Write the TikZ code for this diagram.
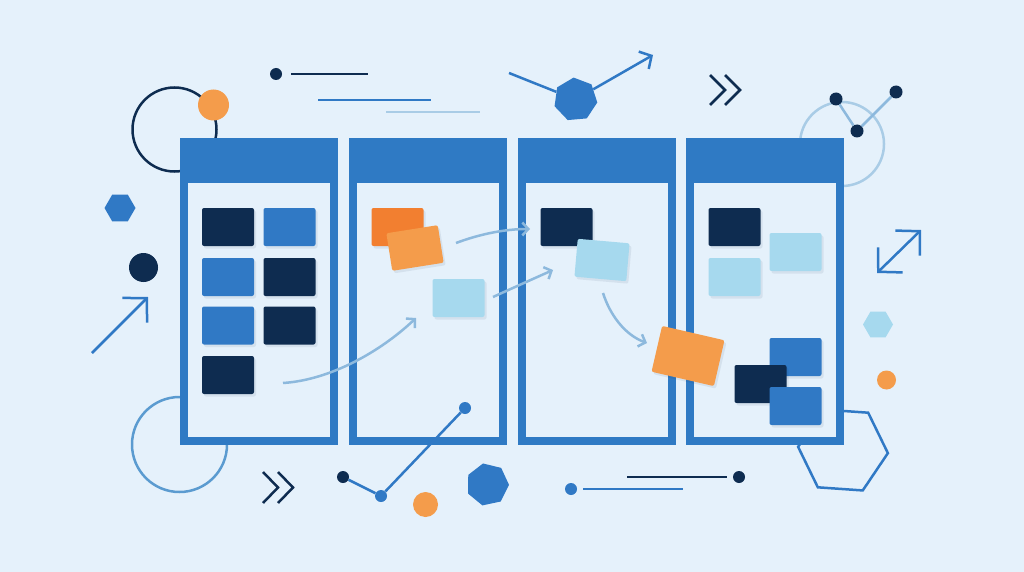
\documentclass[tikz,border=0pt]{standalone}
\usepackage{tikz}
\usetikzlibrary{shadows}
\usetikzlibrary{positioning}
\usetikzlibrary{arrows.meta,shapes}
\usetikzlibrary{calc}
\definecolor{bg}{HTML}{E5F1FB}
\definecolor{colblue}{HTML}{2F7AC4}
\definecolor{navy}{HTML}{0E2C50}
\definecolor{midblue}{HTML}{3079C5}
\definecolor{skyblue}{HTML}{A6D9EE}
\definecolor{orangeA}{HTML}{F27F30}
\definecolor{orangeB}{HTML}{F49C4B}
\definecolor{flowblue}{HTML}{8DB9DD}
\definecolor{ringblue}{HTML}{5B9BD0}
\definecolor{paleblue}{HTML}{A9CCE6}
\tikzstyle{column}=[rectangle,draw=colblue,fill=bg,line width=8pt,minimum width=150pt,minimum height=299pt,inner sep=0pt]
\tikzstyle{card}=[rectangle,rounded corners=2pt,minimum width=52pt,minimum height=38pt,inner sep=0pt,drop shadow={shadow xshift=2pt,shadow yshift=-2.5pt,fill=navy,opacity=0.08}]
\tikzstyle{dot}=[circle,inner sep=0pt,minimum size=12pt]
\tikzstyle{poly}=[regular polygon,inner sep=0pt]
\tikzstyle{flow}=[draw,line width=2.5pt,flowblue,-{Straight Barb[length=6pt,width=13pt]}]
\tikzstyle{deco} = [draw,line width=2.5pt]
\tikzset{bigbarb/.tip={Straight Barb[length=17pt,width=35pt]}}

\begin{document}
\begin{tikzpicture}[x=1pt, y=-1pt]

  \fill[bg] (0,0) rectangle (1024,572);
  \useasboundingbox (0,0) rectangle (1024,572);

  % rings behind the board
  \node[circle,draw=navy,line width=2.5pt,minimum size=84pt] (ringtl) at (174.5,129.5) {};
  \node[circle,draw=ringblue,line width=2.5pt,minimum size=95pt] (ringbl) at (179.5,444.5) {};
  \node[circle,draw=paleblue,line width=2.5pt,minimum size=84pt] (ringtr) at (842,144) {};
  \node[poly,regular polygon sides=6,draw=midblue,line width=2.5pt,minimum size=90pt,rotate=-4] (hexbig) at (843,450) {};

  \foreach \x/\name in {180/todo, 349/doing, 518/review, 686/done}{
     \node[column] (\name) at (\x+79, 291.5) {};
     \fill[colblue] (\x,138) rectangle (\x+158,183);
  }

  \foreach \x/\y/\c/\name in {228/227/navy/a1, 289.5/227/midblue/a2, 228/277/midblue/a3, 289.5/277/navy/a4, 228/325.5/midblue/a5, 289.5/325.5/navy/a6, 228/375/navy/a7}
     \node[card,fill=\c] (\name) at (\x,\y) {};

  \node[card,fill=orangeA] (b1) at (397.5,227) {};
  \node[card,fill=orangeB,rotate=9] (b2) at (415,248) {};
  \node[card,fill=skyblue] (b3) at (458.5,298) {};

  \node[card,fill=navy] (c1) at (566.5,227) {};
  \node[card,fill=skyblue,rotate=-5] (c2) at (602,260) {};

  \foreach \x/\y/\c/\name in {734.5/227/navy/d1, 795.5/252/skyblue/d2, 734.5/277/skyblue/d3, 795.5/357/midblue/d4, 760.5/384/navy/d5, 795.5/406/midblue/d6}
     \node[card,fill=\c] (\name) at (\x,\y) {};

  \node[card,fill=orangeB,minimum width=64pt,minimum height=47pt,rotate=-13] (moving) at (688,356) {};

  % flow arrows
  \coordinate (f1a) at (283,383); \coordinate (f1b) at (416,318);
  \coordinate (f2a) at (456,243); \coordinate (f2b) at (530,229);
  \coordinate (f3a) at (493,297); \coordinate (f3b) at (553,270);
  \coordinate (f4a) at (603,293); \coordinate (f4b) at (647,343);
  \draw[flow] (f1a) .. controls (330,380) and (380,352) .. (f1b);
  \draw[flow] (f2a) .. controls (480,234) and (505,229) .. (f2b);
  \draw[flow] (f3a) .. controls (515,287) and (535,278) .. (f3b);
  \draw[flow] (f4a) .. controls (610,315) and (625,335) .. (f4b);

  % top left
  \node[dot,fill=orangeB,minimum size=31pt] (sun) at (213.5,105) {};
  \node[dot,fill=navy] (p1) at (276,74) {};
  \coordinate (p1a) at (291,74); \coordinate (p1b) at (368,74);
  \draw[deco,navy] (p1a) -- (p1b);
  \coordinate (l1a) at (318,100); \coordinate (l1b) at (431,100);
  \draw[deco,midblue] (l1a) -- (l1b);
  \coordinate (l2a) at (386,112); \coordinate (l2b) at (480,112);
  \draw[deco,paleblue] (l2a) -- (l2b);
  \node[poly,regular polygon sides=6,fill=midblue,minimum size=31pt] (hexl) at (120,208) {};
  \node[dot,fill=navy,minimum size=29pt] (ball) at (143.5,267.5) {};
  \coordinate (up1) at (92,353); \coordinate (up2) at (148,297);
  \draw[deco,midblue,-bigbarb] (up1) -- (up2);

  % top middle
  \node[poly,regular polygon sides=7,fill=midblue,minimum size=44pt,rotate=5] (hub) at (575.5,99.5) {};
  \coordinate (hubin) at (509,73); \coordinate (hubout) at (653,55);
  \draw[deco,midblue] (hubin) -- (hub);
  \draw[deco,midblue,-{Straight Barb[length=9pt,width=20pt]}] (hub) -- (hubout);
  \foreach \x in {710,725}
     \draw[deco,navy] (\x,75) -- (\x+15,90) -- (\x,105);

  % top right
  \node[dot,fill=navy,minimum size=13pt] (t1) at (836,99) {};
  \node[dot,fill=navy,minimum size=13pt] (t2) at (857,131) {};
  \node[dot,fill=navy,minimum size=13pt] (t3) at (896,92) {};
  \draw[deco,flowblue] (t1) -- (t2) -- (t3);
  \coordinate (da) at (877,273); \coordinate (db) at (921,230);
  \draw[deco,midblue,bigbarb-bigbarb] (da) -- (db);
  \node[poly,regular polygon sides=6,fill=skyblue,minimum size=30pt] (hexr) at (878,324.5) {};
  \node[dot,fill=orangeB,minimum size=19pt] (pip) at (886.5,380) {};

  % bottom
  \foreach \x in {263,278}
     \draw[deco,navy] (\x,472) -- (\x+15,487.5) -- (\x,503);
  \node[dot,fill=navy] (g1) at (343,477) {};
  \node[dot,fill=midblue] (g2) at (381,496) {};
  \node[dot,fill=midblue] (g3) at (465,408) {};
  \draw[deco,midblue] (g1) -- (g2) -- (g3);
  \node[dot,fill=orangeB,minimum size=25pt] (coin) at (425.5,504.5) {};
  \node[poly,regular polygon sides=7,fill=midblue,minimum size=43pt,rotate=12] (hept) at (487.5,484.5) {};
  \node[dot,fill=midblue] (q1) at (571,489) {};
  \coordinate (q1a) at (583,489); \coordinate (q1b) at (683,489);
  \draw[deco,midblue] (q1a) -- (q1b);
  \node[dot,fill=navy] (q2) at (739,477) {};
  \coordinate (q2a) at (627,477); \coordinate (q2b) at (727,477);
  \draw[deco,navy] (q2a) -- (q2b);

\end{tikzpicture}
\end{document}
